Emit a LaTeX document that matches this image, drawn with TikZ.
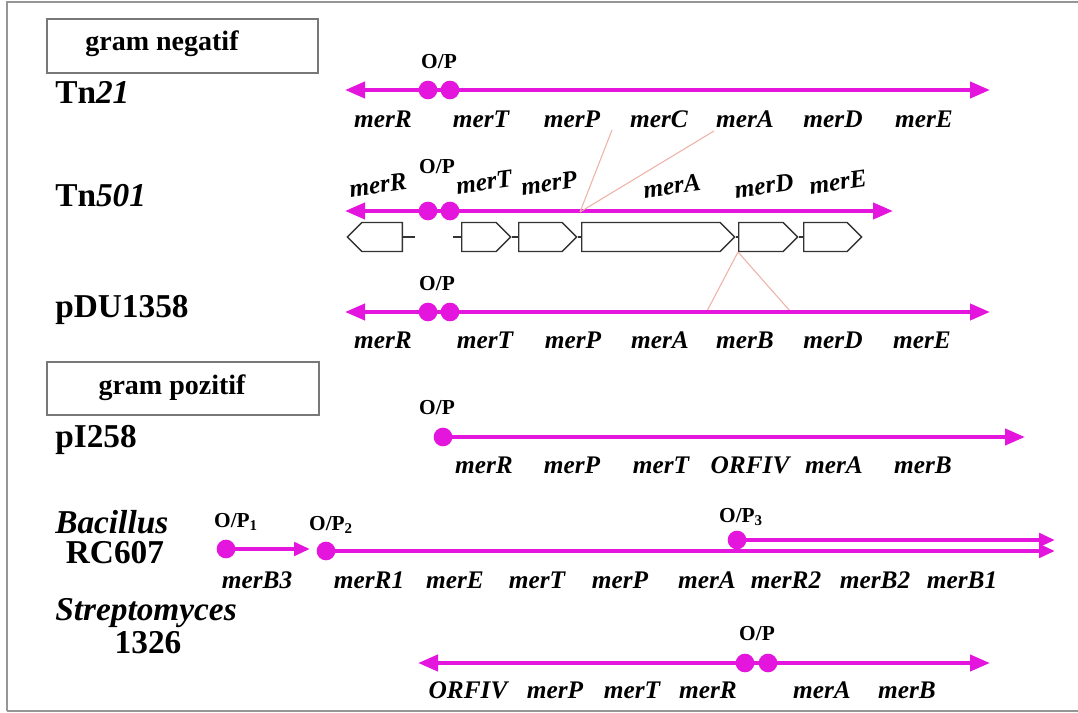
\documentclass[tikz,border=0pt]{standalone}
\usepackage{fontspec}
\setmainfont{Liberation Serif}
\usetikzlibrary{arrows.meta,shapes.symbols}
\definecolor{mag}{RGB}{228,22,222}
\definecolor{faint}{RGB}{238,178,168}
\definecolor{framegray}{RGB}{150,150,150}
\definecolor{boxgray}{RGB}{120,120,120}
\begin{document}
\begin{tikzpicture}[x=0.75pt,y=-0.75pt,
  gene/.style={font=\fontsize{19}{19}\selectfont\bfseries\itshape, inner sep=0pt},
  rowlab/.style={font=\fontsize{25}{25}\selectfont\bfseries, inner sep=0pt, anchor=west},
  rowlabc/.style={font=\fontsize{25}{25}\selectfont\bfseries, inner sep=0pt},
  grouplab/.style={font=\fontsize{21}{21}\selectfont\bfseries, inner sep=0pt},
  oplab/.style={font=\fontsize{16}{16}\selectfont\bfseries, inner sep=0pt},
  dot/.style={circle, fill=mag, minimum size=14pt, inner sep=0pt},
  chrom/.style={draw=mag, line width=3pt},
  tipped/.style={chrom, -{Triangle[length=15pt,width=12pt]}},
  smalltip/.style={chrom, -{Triangle[length=12pt,width=10pt]}},
  gbox/.style={signal, draw=black!80, line width=1pt, inner sep=0pt, fill=white,
    minimum height=21.75pt, signal pointer angle=90},
  tail/.style={draw=black!80, line width=1pt},
  guide/.style={draw=faint, line width=0.8pt},
  groupbox/.style={draw=boxgray, line width=1.5pt, inner sep=0pt},
  framel/.style={draw=framegray, line width=2pt}
]
\useasboundingbox (0,0) rectangle (1078,713);
% outer frame
\coordinate (fA) at (7,711);
\coordinate (fB) at (7,2);
\coordinate (fC) at (1078,2);
\coordinate (fD) at (1078,711);
\draw[framel] (fA) -- (fB) -- (fC);
\draw[framel] (fA) -- (fD);

% group boxes
\node[groupbox, minimum width=203.25pt, minimum height=40.5pt] (gneg) at (182.5,46) {};
\node[grouplab] (gnegt) at (162,44) {gram negatif};
\node[groupbox, minimum width=204pt, minimum height=39.75pt] (gpos) at (182.5,388.5) {};
\node[grouplab] (gpost) at (172,388) {gram pozitif};

% ---------------- Tn21 ----------------
\node[rowlab] (l21) at (55,92) {Tn\textit{21}};
\node[dot] (a1) at (428,90) {};
\node[dot] (b1) at (450,90) {};
\coordinate (la1) at (345,90);
\coordinate (ra1) at (990,90);
\draw[chrom] (a1.center) -- (b1.center);
\draw[tipped] (a1.center) -- (la1);
\draw[tipped] (b1.center) -- (ra1);
\node[oplab] (op1) at (439,62) {O/P};
\foreach \g/\x in {R/383,T/481,P/572,C/659,A/745,D/833,E/924}
  \node[gene] (t21\g) at (\x,119) {mer\g};

% ---------------- Tn501 ----------------
\node[rowlab] (l501) at (55,196) {Tn\textit{501}};
\node[dot] (a2) at (428,211) {};
\node[dot] (b2) at (450,211) {};
\coordinate (la2) at (345,211);
\coordinate (ra2) at (893,211);
\draw[chrom] (a2.center) -- (b2.center);
\draw[tipped] (a2.center) -- (la2);
\draw[tipped] (b2.center) -- (ra2);
\node[oplab] (op2) at (437,167) {O/P};
\node[gene, rotate=8] (t5R) at (378,185) {merR};
\node[gene, rotate=8] (t5T) at (484,182) {merT};
\node[gene, rotate=8] (t5P) at (549,183) {merP};
\node[gene, rotate=8] (t5A) at (672,186) {merA};
\node[gene, rotate=8] (t5D) at (764,186) {merD};
\node[gene, rotate=8] (t5E) at (838,182) {merE};
% gene boxes
\node[gbox, signal to=west, minimum width=41.25pt, anchor=east] (bR) at (403,237) {};
\node[gbox, signal to=east, minimum width=36.75pt, anchor=west] (bT) at (461,237) {};
\node[gbox, signal to=east, minimum width=43.5pt, anchor=west] (bP) at (518,237) {};
\node[gbox, signal to=east, minimum width=114.75pt, anchor=west] (bA) at (581,237) {};
\node[gbox, signal to=east, minimum width=44.25pt, anchor=west] (bD) at (738,237) {};
\node[gbox, signal to=east, minimum width=43.5pt, anchor=west] (bE) at (803,237) {};
\coordinate (tR) at (415,237);
\coordinate (tT) at (453,237);
\draw[tail] (bR.east) -- (tR);
\draw[tail] (tT) -- (bT.west);
\draw[tail] (bT.east) -- (bP.west);
\draw[tail] (bP.east) -- (bA.west);
\draw[tail] (bA.east) -- (bD.west);
\draw[tail] (bD.east) -- (bE.west);

% guide lines
\coordinate (gU) at (580,212);
\coordinate (gU1) at (612,130);
\coordinate (gU2) at (714,131);
\draw[guide] (gU) -- (gU1);
\draw[guide] (gU) -- (gU2);
\coordinate (gL) at (738,252);
\coordinate (gL1) at (707,311);
\coordinate (gL2) at (790,311);
\draw[guide] (gL) -- (gL1);
\draw[guide] (gL) -- (gL2);

% ---------------- pDU1358 ----------------
\node[rowlab] (lpdu) at (55,310) {pDU1358};
\node[dot] (a3) at (428,312) {};
\node[dot] (b3) at (450,312) {};
\coordinate (la3) at (345,312);
\coordinate (ra3) at (990,312);
\draw[chrom] (a3.center) -- (b3.center);
\draw[tipped] (a3.center) -- (la3);
\draw[tipped] (b3.center) -- (ra3);
\node[oplab] (op3) at (437,284) {O/P};
\foreach \g/\x in {R/383,T/485,P/573,A/660,B/745,D/833,E/922}
  \node[gene] (tp\g) at (\x,340) {mer\g};

% ---------------- pI258 ----------------
\node[rowlab] (lpi) at (55,440) {pI258};
\node[dot] (b4) at (443,437) {};
\coordinate (ra4) at (1025,437);
\draw[tipped] (b4.center) -- (ra4);
\node[oplab] (op4) at (437,408) {O/P};
\node[gene] (tiR) at (484,465) {merR};
\node[gene] (tiP) at (572,465) {merP};
\node[gene] (tiT) at (661,465) {merT};
\node[gene] (tiO) at (750,465) {ORFIV};
\node[gene] (tiA) at (834,465) {merA};
\node[gene] (tiB) at (923,465) {merB};

% ---------------- Bacillus RC607 ----------------
\node[font=\fontsize{25}{25}\selectfont\bfseries\itshape, inner sep=0pt, anchor=west] (lbac) at (55,522) {Bacillus};
\node[rowlabc] (lrc) at (115,553) {RC607};
\node[dot] (c1) at (226,549) {};
\coordinate (rc1) at (310,549);
\draw[smalltip] (c1.center) -- (rc1);
\node[dot] (c2) at (326,551) {};
\coordinate (rc2) at (1055,551);
\draw[smalltip] (c2.center) -- (rc2);
\node[dot] (c3) at (737,540) {};
\coordinate (rc3) at (1055,540);
\draw[smalltip] (c3.center) -- (rc3);
\node[oplab] (opb1) at (236,522) {O/P$_{\mathbf{1}}$};
\node[oplab] (opb2) at (331,525) {O/P$_{\mathbf{2}}$};
\node[oplab] (opb3) at (741,517) {O/P$_{\mathbf{3}}$};
\node[gene] (tbB3) at (257,580) {merB3};
\node[gene] (tbR1) at (369,580) {merR1};
\node[gene] (tbE) at (455,580) {merE};
\node[gene] (tbT) at (537,580) {merT};
\node[gene] (tbP) at (620,580) {merP};
\node[gene] (tbA) at (707,580) {merA};
\node[gene] (tbR2) at (786,580) {merR2};
\node[gene] (tbB2) at (875,580) {merB2};
\node[gene] (tbB1) at (962,580) {merB1};

% ---------------- Streptomyces 1326 ----------------
\node[font=\fontsize{25}{25}\selectfont\bfseries\itshape, inner sep=0pt, anchor=west] (lstr) at (55,613) {Streptomyces};
\node[rowlabc] (l1326) at (148,643) {1326};
\node[dot] (a6) at (745,663) {};
\node[dot] (b6) at (768,663) {};
\coordinate (la6) at (418,663);
\coordinate (ra6) at (990,663);
\draw[chrom] (a6.center) -- (b6.center);
\draw[tipped] (a6.center) -- (la6);
\draw[tipped] (b6.center) -- (ra6);
\node[oplab] (op6) at (757,634) {O/P};
\node[gene] (tsO) at (468,690) {ORFIV};
\node[gene] (tsP) at (555,690) {merP};
\node[gene] (tsT) at (632,690) {merT};
\node[gene] (tsR) at (708,690) {merR};
\node[gene] (tsA) at (822,690) {merA};
\node[gene] (tsB) at (907,690) {merB};
\end{tikzpicture}
\end{document}
